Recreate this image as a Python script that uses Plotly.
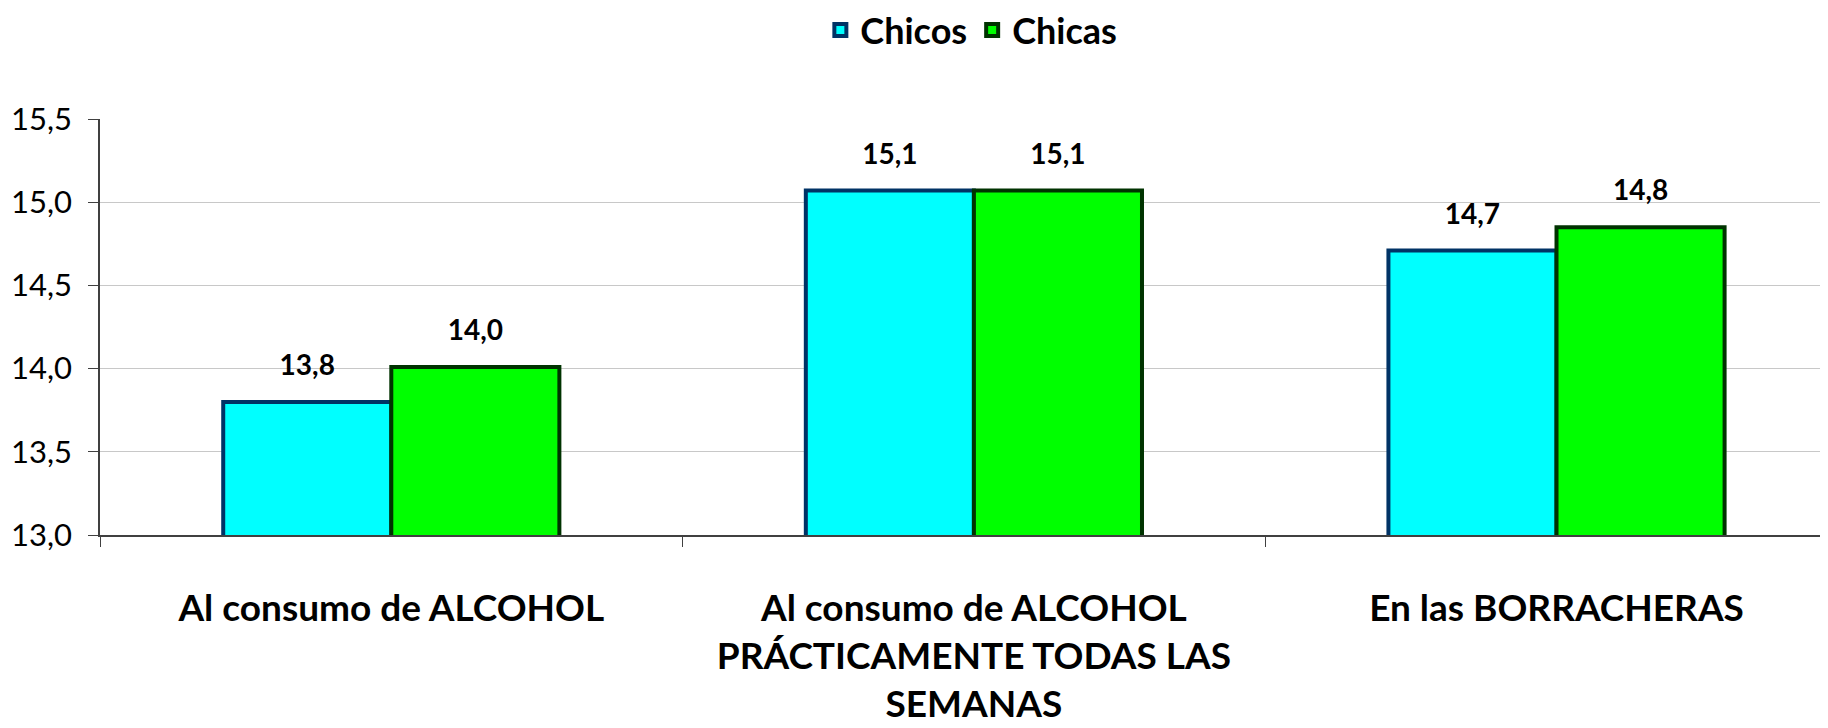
import plotly.graph_objects as go

categories = [
    "Al consumo de ALCOHOL",
    "Al consumo de ALCOHOL<br>PRÁCTICAMENTE TODAS LAS<br>SEMANAS",
    "En las BORRACHERAS",
]
chicos = [13.8, 15.07, 14.71]
chicas = [14.01, 15.07, 14.85]

series = [
    ("Chicos", chicos, "#00FFFF", "#003366"),
    ("Chicas", chicas, "#00FF00", "#003300"),
]

FONT = "Lato"

def lbl(v):
    return f"{v:.1f}".replace(".", ",")

fig = go.Figure()

for name, vals, fill, edge in series:
    fig.add_trace(go.Bar(
        name=name,
        x=categories,
        y=vals,
        offsetgroup=name,
        marker=dict(color=fill, line=dict(color=edge, width=4)),
        hoverinfo="skip",
    ))

# value labels, floated a little above the bars
for name, vals, fill, edge in series:
    fig.add_trace(go.Scatter(
        x=categories,
        y=vals,
        offsetgroup=name,
        mode="markers+text",
        marker=dict(size=30, opacity=0),
        text=[lbl(v) for v in vals],
        textposition="top center",
        textfont=dict(family=FONT, size=28, color="black", weight="bold"),
        showlegend=False,
        hoverinfo="skip",
    ))

# page body has an 8px margin, so everything is pulled up/left by 8
fig.update_layout(
    width=1828,
    height=728,
    margin=dict(l=92, r=8, t=111, b=201),
    paper_bgcolor="white",
    plot_bgcolor="white",
    barmode="group",
    bargap=0.423,
    bargroupgap=0,
    scattermode="group",
    scattergap=0.423,
    separators=",.",
    font=dict(family=FONT, color="black"),
    legend=dict(
        orientation="h",
        x=0.527, xanchor="center", xref="container",
        y=1 - 22 / 728, yanchor="middle", yref="container",
        font=dict(family=FONT, size=36, weight="bold"),
        itemwidth=30,
        traceorder="normal",
    ),
    xaxis=dict(
        range=[-0.5, 2.466],
        automargin=False,
        showline=True, linecolor="#404040", linewidth=1.5,
        ticks="outside", tickson="boundaries", ticklen=10, tickcolor="#404040",
        ticklabelstandoff=40,
        tickfont=dict(family=FONT, size=37, weight="bold"),
        showgrid=False,
    ),
    yaxis=dict(
        range=[13.0, 15.5],
        dtick=0.5,
        tickformat=".1f",
        automargin=False,
        showline=True, linecolor="#404040", linewidth=1.5,
        ticks="outside", ticklen=10, tickcolor="#404040",
        ticklabelstandoff=10,
        tickfont=dict(family=FONT, size=31),
        showgrid=True, gridcolor="#c8c8c8", gridwidth=1,
        zeroline=False,
    ),
)

fig.write_html("out.html")
